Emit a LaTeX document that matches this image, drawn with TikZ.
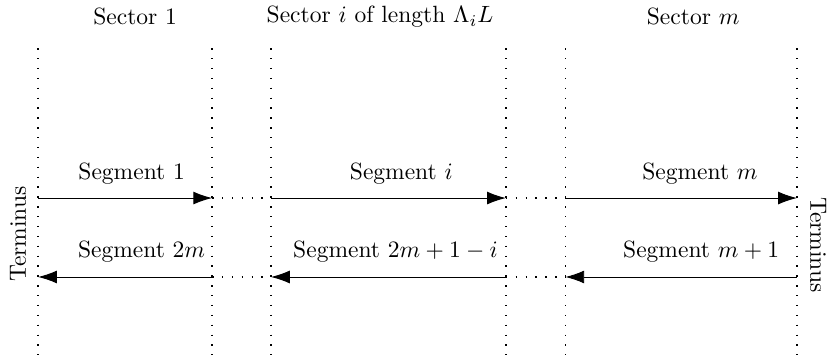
\documentclass[tikz,border=0pt]{standalone}
\usepackage{amsmath}
\usepackage{amsfonts}
\usetikzlibrary{arrows.meta, positioning}

\begin{document}
\begin{tikzpicture}[->,>={Latex[length=8pt,width=5.5pt]},line width=0.4pt,
    bound/.style={-, line width=0.6pt, dash pattern=on 0.6pt off 3.6pt}, lbl/.style={above=2.5pt}]
      \useasboundingbox (0,0) rectangle (12.42,5.35);

      % sector boundaries
      \foreach \n/\x in {a/0.57, b/3.17, c/4.05, d/7.56, e/8.45, f/11.91} {
        \coordinate (\n-top) at (\x,4.63);
        \coordinate (\n-bot) at (\x,0.04);
        \coordinate (\n-up) at (\x,2.39);
        \coordinate (\n-lo) at (\x,1.21);
        \draw[bound] (\n-top) -- (\n-bot);
      }

      \node (s1) at (2.02,5.10) {Sector 1};
      \node (si) at (5.68,5.10) {Sector $i$ of length $\Lambda_i L$};
      \node (sm) at (10.36,5.10) {Sector $m$};

      \node[rotate=90] (t1) at (0.27,1.85) {Terminus};
      \node[rotate=-90] (t2) at (12.23,1.69) {Terminus};

      \path (a-up) edge node[lbl, xshift=2.8pt] {Segment 1} (b-up)
            (c-up) edge node[lbl, xshift=5.5pt] {Segment $i$} (d-up)
            (e-up) edge node[lbl, xshift=8pt] {Segment $m$} (f-up)
            (b-lo) edge node[lbl, xshift=7pt] {Segment $2m$} (a-lo)
            (d-lo) edge node[lbl, xshift=3pt] {Segment $2m+1-i$} (c-lo)
            (f-lo) edge node[lbl, xshift=8.5pt] {Segment $m+1$} (e-lo)
            ;
      \draw[bound] (b-up) -- (c-up) (d-up) -- (e-up)
                   (b-lo) -- (c-lo) (d-lo) -- (e-lo);
    \end{tikzpicture}
\end{document}
